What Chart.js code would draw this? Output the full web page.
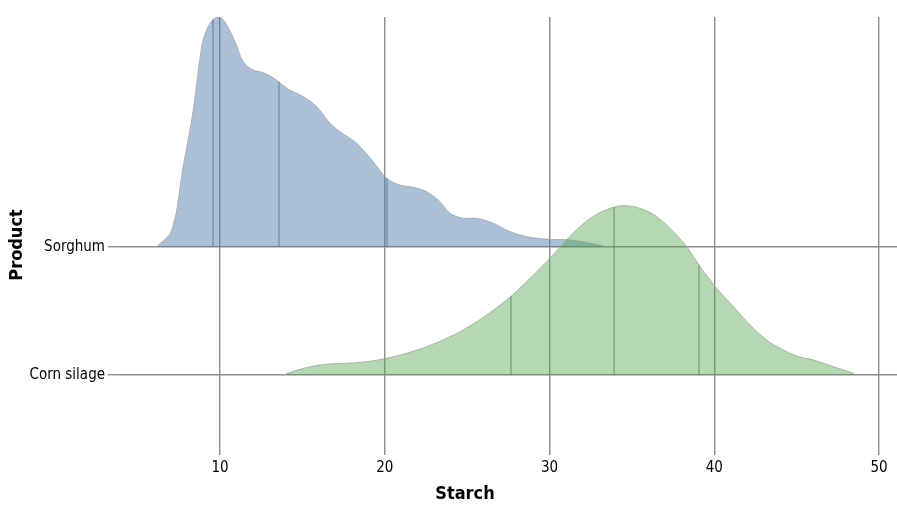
<!DOCTYPE html>
<html>
<head>
<meta charset="utf-8">
<script src="https://cdn.jsdelivr.net/npm/chart.js@4"></script>
<style>
html,body{margin:0;padding:0;background:#fff;}
#wrap{width:897px;height:505px;}
</style>
</head>
<body>
<div id="wrap"><canvas id="c" width="897" height="505"></canvas></div>
<script>
// ---- data ----
const categories = ["Corn silage", "Sorghum"];       // ridge baselines 0 and 1
const xTicks = [10, 20, 30, 40, 50];
const sorghumX = [6.16,7.07,7.77,8.38,8.89,9.19,9.59,10.0,10.41,10.91,11.41,12.02,12.63,13.44,14.05,15.06,15.87,16.68,17.28,18.30,19.30,20.12,20.93,21.73,22.55,23.35,23.96,24.77,25.58,26.59,27.60,28.82,30.03,31.24,32.26,33.27,33.43];
const sorghumDensity = [0,0.13,0.63,1.07,1.565,1.695,1.779,1.795,1.734,1.604,1.448,1.383,1.362,1.305,1.240,1.174,1.096,0.966,0.901,0.810,0.666,0.537,0.484,0.466,0.432,0.354,0.263,0.224,0.224,0.185,0.120,0.076,0.060,0.055,0.034,0.008,0];
const cornX = [13.84,15.06,16.48,17.69,18.90,20.12,21.33,22.55,23.76,24.77,26.19,27.71,28.82,30.03,30.84,31.85,32.86,33.87,34.58,35.49,36.51,37.51,38.33,39.14,40.15,41.16,42.17,43.18,43.99,45.00,46.01,47.03,48.44,48.54];
const cornDensity = [0,0.052,0.084,0.091,0.104,0.130,0.170,0.221,0.287,0.352,0.469,0.620,0.755,0.912,1.029,1.159,1.255,1.310,1.323,1.302,1.237,1.120,1.002,0.846,0.677,0.534,0.391,0.273,0.209,0.148,0.117,0.073,0.013,0];
const sorghumQuartiles = [9.58, 13.58, 20.14];
const cornQuartiles = [27.66, 33.92, 39.07];

// ---- build datasets ----
function pts(xs, ys, base){ return xs.map((x,i)=>({x:x, y:base+ys[i]})); }
function interp(xs, ys, q){
  for(let i=0;i<xs.length-1;i++){
    if(q>=xs[i] && q<=xs[i+1]){
      const t=(q-xs[i])/(xs[i+1]-xs[i]);
      return ys[i]+t*(ys[i+1]-ys[i]);
    }
  }
  return 0;
}
const FONT = "'Liberation Sans Narrow','DejaVu Sans Condensed','Arial Narrow',sans-serif";
const datasets = [];
datasets.push({
  label: categories[1], data: pts(sorghumX, sorghumDensity, 1),
  fill: {value: 1}, backgroundColor: 'rgba(76,120,168,0.47)',
  borderColor: 'rgba(170,170,170,0.9)', borderWidth: 1, pointRadius: 0,
  tension: 0.35, order: 3
});
datasets.push({
  label: categories[0], data: pts(cornX, cornDensity, 0),
  fill: {value: 0}, backgroundColor: 'rgba(84,162,75,0.43)',
  borderColor: 'rgba(170,170,170,0.9)', borderWidth: 1, pointRadius: 0,
  tension: 0.35, order: 2
});
sorghumQuartiles.forEach(q=>{
  datasets.push({label:'q', data:[{x:q,y:1},{x:q,y:1+interp(sorghumX,sorghumDensity,q)}],
    borderColor:'rgba(70,95,125,0.55)', borderWidth:1.3, pointRadius:0, fill:false, order:1});
});
cornQuartiles.forEach(q=>{
  datasets.push({label:'q', data:[{x:q,y:0},{x:q,y:interp(cornX,cornDensity,q)}],
    borderColor:'rgba(60,105,55,0.5)', borderWidth:1.3, pointRadius:0, fill:false, order:1});
});

const titles = {
  id:'axisTitles',
  afterDraw(chart){
    const ctx=chart.ctx;
    ctx.save();
    ctx.fillStyle='#000';
    ctx.font="bold 18px "+FONT;
    ctx.textAlign='center'; ctx.textBaseline='middle';
    ctx.fillText('Starch', 465, 494);
    ctx.translate(17, 245);
    ctx.rotate(-Math.PI/2);
    ctx.fillText('Product', 0, 0);
    ctx.restore();
  }
};

new Chart(document.getElementById('c'), {
  type: 'line',
  data: { datasets },
  options: {
    responsive: false, animation: false,
    layout: { padding: { top: 17, right: 0, left: 0, bottom: 0 } },
    plugins: { legend: {display:false}, tooltip:{enabled:false} },
    scales: {
      x: {
        type: 'linear', min: 3.81, max: 51.09,
        afterBuildTicks(s){ s.ticks = xTicks.map(v=>({value:v})); },
        afterFit(s){ s.height = 60; },
        border: {display:false},
        grid: { color:'#8c8c8c', lineWidth:1.4, tickLength:10, drawTicks:true },
        ticks: { color:'#000', font:{family:FONT, size:15}, padding:4, maxRotation:0,
                 callback:(v)=>String(v) }
      },
      y: {
        type: 'linear', min: -0.547, max: 2.797,
        afterBuildTicks(s){ s.ticks = [{value:0},{value:1}]; },
        afterFit(s){ s.width = 118; },
        border: {display:false},
        grid: { color:'#8c8c8c', lineWidth:1.4, tickLength:10 },
        ticks: { color:'#000', font:{family:FONT, size:15}, padding:3,
                 callback:(v)=> categories[v] }
      }
    }
  },
  plugins: [titles]
});
</script>
</body>
</html>
